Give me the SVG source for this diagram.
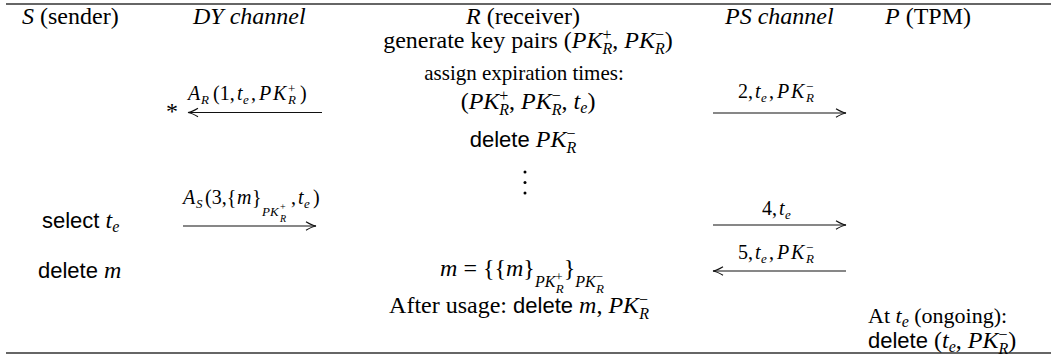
<svg xmlns="http://www.w3.org/2000/svg" width="1055" height="356" viewBox="0 0 1055 356">
<style>
text{font-family:"Liberation Serif",serif;font-size:24px;fill:#000}
.it{font-style:italic}
.sf{font-family:"Liberation Sans",sans-serif;font-size:22px}
.lab{font-size:20px}
.s1{font-size:16px}
.s2{font-size:13px}
.s3{font-size:10px}
.rule{stroke:#333;stroke-width:1.6}
.arr{stroke:#111;stroke-width:1.2;fill:none;marker-end:url(#ah)}
</style>
<defs>
<marker id="ah" markerUnits="userSpaceOnUse" markerWidth="14" markerHeight="12" viewBox="-12 -6 14 12" refX="0" refY="0" orient="auto">
<path d="M-10,-4.2 Q-4,-0.6 0,0 Q-4,0.6 -10,4.2" fill="none" stroke="#111" stroke-width="1.1"/>
</marker>
</defs>
<rect width="1055" height="356" fill="#fff"/>
<line class="rule" x1="6" y1="4" x2="1051" y2="4"/>
<line class="rule" x1="6" y1="353" x2="1051" y2="353"/>

<g id="head-S"><text x="22" y="24"><tspan class="it">S</tspan> (sender)</text></g>
<g id="head-DY"><text x="193" y="24" class="it">DY channel</text></g>
<g id="head-R"><text x="523" y="24" text-anchor="middle"><tspan class="it">R</tspan> (receiver)</text></g>
<g id="head-PS"><text x="725" y="24" class="it">PS channel</text></g>
<g id="head-P"><text x="885" y="24"><tspan class="it">P</tspan> (TPM)</text></g>

<g id="R-setup">
<text x="528" y="48" text-anchor="middle">generate key pairs (<tspan class="it">PK</tspan><tspan class="s1" dy="-8">+</tspan><tspan class="it s1" dx="-9" dy="14">R</tspan><tspan dy="-6">, </tspan><tspan class="it">PK</tspan><tspan class="s1" dy="-8">−</tspan><tspan class="it s1" dx="-9" dy="14">R</tspan><tspan dy="-6">)</tspan></text>
<text x="524" y="80" text-anchor="middle" style="font-size:21px">assign expiration times:</text>
<text x="528" y="109" text-anchor="middle">(<tspan class="it">PK</tspan><tspan class="s1" dy="-8">+</tspan><tspan class="it s1" dx="-9" dy="14">R</tspan><tspan dy="-6">, </tspan><tspan class="it">PK</tspan><tspan class="s1" dy="-8">−</tspan><tspan class="it s1" dx="-9" dy="14">R</tspan><tspan dy="-6">, </tspan><tspan class="it">t</tspan><tspan class="it s1" dy="4">e</tspan><tspan dy="-4">)</tspan></text>
<text x="523" y="147" text-anchor="middle"><tspan class="sf">delete </tspan><tspan class="it">PK</tspan><tspan class="s1" dy="-8">−</tspan><tspan class="it s1" dx="-9" dy="14">R</tspan></text>
<circle cx="525" cy="172" r="1.5"/><circle cx="525" cy="182.5" r="1.5"/><circle cx="525" cy="193" r="1.5"/>
</g>

<g id="R-decrypt">
<text x="522" y="276" text-anchor="middle"><tspan class="it">m</tspan> = {{<tspan class="it">m</tspan>}<tspan class="it s1" dy="11">PK</tspan><tspan class="s2" dy="-6">+</tspan><tspan class="it s2" dx="-7" dy="12">R</tspan><tspan dy="-17">}</tspan><tspan class="it s1" dy="11">PK</tspan><tspan class="s2" dy="-6">−</tspan><tspan class="it s2" dx="-7" dy="12">R</tspan></text>
<text x="519" y="313" text-anchor="middle">After usage: <tspan class="sf">delete </tspan><tspan class="it">m</tspan>, <tspan class="it">PK</tspan><tspan class="s1" dy="-8">−</tspan><tspan class="it s1" dx="-9" dy="14">R</tspan></text>
</g>

<g id="S-select"><text x="42" y="228"><tspan class="sf">select </tspan><tspan class="it">t</tspan><tspan class="it s1" dy="4">e</tspan></text></g>
<g id="S-delete"><text x="38" y="278"><tspan class="sf">delete </tspan><tspan class="it">m</tspan></text></g>

<g id="P-delete">
<text x="868" y="323" style="font-size:22px">At <tspan class="it">t</tspan><tspan class="it s1" dy="4">e</tspan><tspan dy="-4"> (ongoing):</tspan></text>
<text x="868" y="348"><tspan class="sf">delete </tspan>(<tspan class="it">t</tspan><tspan class="it s1" dy="4">e</tspan><tspan dy="-4">, </tspan><tspan class="it">PK</tspan><tspan class="s1" dy="-8">−</tspan><tspan class="it s1" dx="-9" dy="14">R</tspan><tspan dy="-6">)</tspan></text>
</g>

<g id="star"><text x="172" y="119" text-anchor="middle">*</text></g>

<g id="connectors">
<line class="arr" x1="322" y1="112.5" x2="188" y2="112.5"/>
<text class="lab"><tspan class="it" x="188" y="100">A</tspan><tspan class="it s2" x="201" y="104">R</tspan><tspan x="213" y="100">(1,</tspan><tspan class="it" x="237" y="100">t</tspan><tspan class="it s2" x="243" y="104">e</tspan><tspan x="251" y="100">,</tspan><tspan class="it" x="259" y="100">P</tspan><tspan class="it" x="273" y="100">K</tspan><tspan class="s2" x="288" y="93">+</tspan><tspan class="it s2" x="288" y="104">R</tspan><tspan x="300" y="100">)</tspan></text>

<line class="arr" x1="713" y1="113" x2="846" y2="113"/>
<text class="lab"><tspan x="738" y="98">2,</tspan><tspan class="it" x="755" y="98">t</tspan><tspan class="it s2" x="761" y="102">e</tspan><tspan x="769" y="98">,</tspan><tspan class="it" x="777" y="98">P</tspan><tspan class="it" x="791" y="98">K</tspan><tspan class="s2" x="806" y="91">−</tspan><tspan class="it s2" x="806" y="102">R</tspan></text>

<line class="arr" x1="183" y1="226" x2="316" y2="226"/>
<text class="lab"><tspan class="it" x="183" y="204">A</tspan><tspan class="it s2" x="196" y="208">S</tspan><tspan x="205" y="204">(3,{</tspan><tspan class="it" x="237" y="204">m</tspan><tspan x="252" y="204">}</tspan><tspan class="it s2" x="262" y="216">P</tspan><tspan class="it s2" x="270" y="216">K</tspan><tspan class="s3" x="280" y="210">+</tspan><tspan class="it s3" x="280" y="222">R</tspan><tspan x="291" y="204">,</tspan><tspan class="it" x="298" y="204">t</tspan><tspan class="it s2" x="304" y="208">e</tspan><tspan x="313" y="204">)</tspan></text>

<line class="arr" x1="713" y1="225" x2="846" y2="225"/>
<text class="lab"><tspan x="762" y="215">4,</tspan><tspan class="it" x="779" y="215">t</tspan><tspan class="it s2" x="785" y="219">e</tspan></text>

<line class="arr" x1="846" y1="271" x2="713" y2="271"/>
<text class="lab"><tspan x="738" y="259">5,</tspan><tspan class="it" x="755" y="259">t</tspan><tspan class="it s2" x="761" y="263">e</tspan><tspan x="769" y="259">,</tspan><tspan class="it" x="777" y="259">P</tspan><tspan class="it" x="791" y="259">K</tspan><tspan class="s2" x="806" y="252">−</tspan><tspan class="it s2" x="806" y="263">R</tspan></text>
</g>
</svg>
